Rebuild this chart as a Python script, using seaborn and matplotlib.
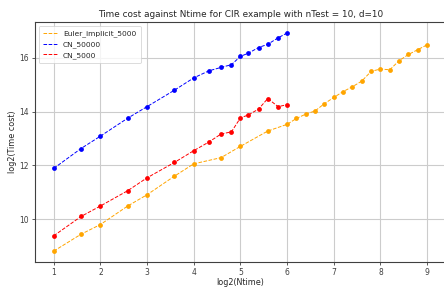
import numpy as np
import pandas as pd
import matplotlib
matplotlib.use('Agg')
import matplotlib.pyplot as plt
import seaborn as sns

# valeurs (log2 de Ntime et log2 du temps)
x_cn = [1, 1.585, 2, 2.585, 3, 3.585, 4, 4.322, 4.585, 4.807, 5, 5.17, 5.39, 5.585, 5.807, 6]
y_cn_50000 = [11.89, 12.63, 13.09, 13.76, 14.19, 14.80, 15.26, 15.52, 15.65, 15.75,
              16.06, 16.18, 16.39, 16.51, 16.75, 16.93]
y_cn_5000 = [9.38, 10.10, 10.49, 11.06, 11.54, 12.11, 12.55, 12.87, 13.17, 13.25,
             13.77, 13.88, 14.10, 14.49, 14.19, 14.26]

x_euler = [1, 1.585, 2, 2.585, 3, 3.585, 4, 4.585, 5, 5.585, 6, 6.2, 6.4, 6.6, 6.8,
           7, 7.2, 7.4, 7.6, 7.8, 8, 8.2, 8.4, 8.6, 8.8, 9]
y_euler = [8.81, 9.44, 9.80, 10.49, 10.91, 11.60, 12.06, 12.29, 12.71, 13.28, 13.53,
           13.75, 13.91, 14.03, 14.30, 14.53, 14.75, 14.93, 15.14, 15.50, 15.59, 15.56,
           15.90, 16.13, 16.31, 16.49]

series = [
    ('Euler_implicit_5000', x_euler, y_euler, 'orange'),
    ('CN_50000', x_cn, y_cn_50000, 'blue'),
    ('CN_5000', x_cn, y_cn_5000, 'red'),
]

sns.set_theme(style='whitegrid', rc={
    'axes.edgecolor': '0.25',
    'axes.linewidth': 0.8,
    'grid.color': '0.8',
    'grid.linewidth': 0.8,
    'xtick.bottom': True,
    'ytick.left': True,
    'xtick.major.size': 2.5,
    'ytick.major.size': 2.5,
    'xtick.major.width': 0.6,
    'ytick.major.width': 0.6,
    'xtick.color': '0.25',
    'ytick.color': '0.25',
})
plt.rcParams['font.family'] = ['DejaVu Sans']

fig = plt.figure(figsize=(4.44, 2.87), dpi=100)
ax = fig.add_axes([0.079, 0.087, 0.925, 0.836])

for name, xs, ys, col in series:
    sns.lineplot(x=xs, y=ys, ax=ax, color=col, linestyle='--', linewidth=0.7,
                 label=name, dashes=False)
    sns.scatterplot(x=xs, y=ys, ax=ax, color=col, s=12, linewidth=0, legend=False)

ax.set_xticks(range(1, 10))
ax.set_yticks([10, 12, 14, 16])
ax.tick_params(labelsize=5.5, pad=2)
ax.set_xlabel('log2(Ntime)', fontsize=5.8, labelpad=0.5)
ax.set_ylabel('log2(Time cost)', fontsize=5.8, labelpad=1.5)
ax.set_title('Time cost against Ntime for CIR example with nTest = 10, d=10', fontsize=6.4, pad=4)

leg = ax.legend(loc='upper left', fontsize=5.4, frameon=True, handlelength=1.8,
                borderpad=0.6, labelspacing=0.5, handletextpad=0.8)
leg.get_frame().set_edgecolor('0.8')
leg.get_frame().set_linewidth(0.6)

for s in ax.spines.values():
    s.set_visible(True)

fig.savefig('out.png', dpi=100)
